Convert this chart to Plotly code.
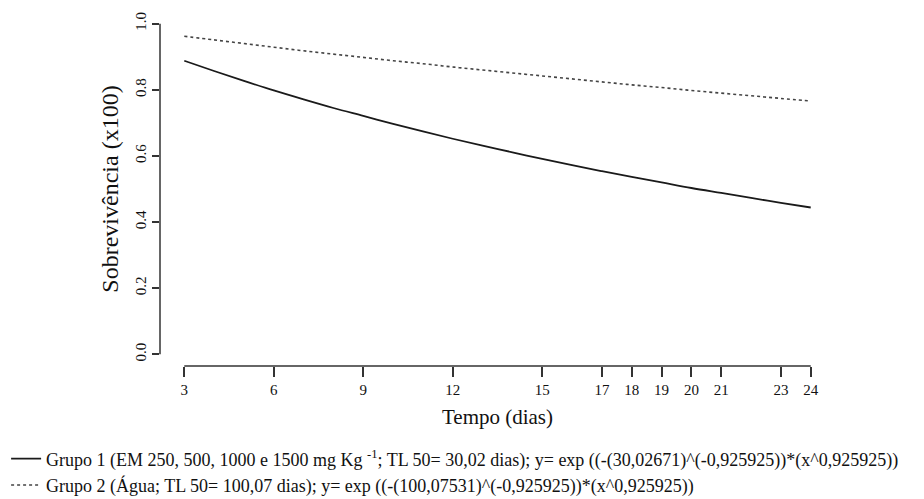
import plotly.graph_objects as go

# Days (x) and estimated survival proportions
dias = [3, 4, 5, 6, 7, 8, 9, 10, 11, 12, 13, 14, 15, 16, 17, 18, 19, 20, 21, 22, 23, 24]
grupo1 = [0.888, 0.857, 0.827, 0.798, 0.771, 0.745, 0.721, 0.697, 0.674, 0.652, 0.631,
          0.611, 0.591, 0.572, 0.554, 0.537, 0.520, 0.503, 0.488, 0.473, 0.458, 0.444]
grupo2 = [0.962, 0.951, 0.940, 0.929, 0.918, 0.908, 0.898, 0.888, 0.879, 0.869, 0.860,
          0.851, 0.842, 0.833, 0.824, 0.815, 0.807, 0.798, 0.790, 0.782, 0.774, 0.766]

x_ticks = [3, 6, 9, 12, 15, 17, 18, 19, 20, 21, 23, 24]
y_ticks = [0.0, 0.2, 0.4, 0.6, 0.8, 1.0]
y_ticktext = ["0.0", "0.2", "0.4", "0.6", "0.8", "1.0"]

nome1 = ("Grupo 1 (EM 250, 500, 1000 e 1500 mg Kg <sup>-1</sup>; TL 50= 30,02 dias); "
         "y= exp ((-(30,02671)^(-0,925925))*(x^0,925925))")
nome2 = ("Grupo 2 (Água; TL 50= 100,07 dias); "
         "y= exp ((-(100,07531)^(-0,925925))*(x^0,925925))")

FONT = "Liberation Serif, Times New Roman, serif"
AX = "#333333"

fig = go.Figure()
fig.add_trace(go.Scatter(x=dias, y=grupo1, mode="lines", name=nome1,
                         line=dict(color="#1a1a1a", width=1.8, shape="spline")))
fig.add_trace(go.Scatter(x=dias, y=grupo2, mode="lines", name=nome2,
                         line=dict(color="#444444", width=1.6, dash="dot", shape="spline")))

xr = [2.186, 24.814]
yr = [-0.0354, 1.0354]

# R-style detached axis lines
fig.add_shape(type="line", xref="paper", yref="y", x0=0, x1=0, y0=0, y1=1,
              line=dict(color=AX, width=1.5))
fig.add_shape(type="line", xref="x", yref="paper", x0=3, x1=24, y0=0, y1=0,
              line=dict(color=AX, width=1.5))

fig.update_layout(
    width=916, height=491,
    margin=dict(l=152, r=89, t=4, b=133, autoexpand=False),
    paper_bgcolor="white", plot_bgcolor="white",
    font=dict(family=FONT, color="#111111"),
    xaxis=dict(range=xr, tickvals=x_ticks, ticktext=[str(v) for v in x_ticks],
               showgrid=False, zeroline=False, showline=False, automargin=False,
               ticks="outside", ticklen=10, tickwidth=1.5, tickcolor=AX,
               tickfont=dict(family=FONT, size=15, color="#111111"),
               title=dict(text="Tempo (dias)", font=dict(family=FONT, size=21), standoff=12)),
    yaxis=dict(range=yr, tickvals=y_ticks, ticktext=y_ticktext, tickangle=-90,
               showgrid=False, zeroline=False, showline=False, automargin=False,
               ticks="outside", ticklen=7, tickwidth=1.5, tickcolor=AX,
               tickfont=dict(family=FONT, size=15, color="#111111"),
               title=dict(text="Sobrevivência (x100)", font=dict(family=FONT, size=24), standoff=7)),
    showlegend=True,
    legend=dict(x=-0.228, xanchor="left", y=-0.21, yanchor="top",
                orientation="v", bgcolor="rgba(0,0,0,0)",
                font=dict(family=FONT, size=18, color="#111111"),
                itemwidth=30),
)

fig.write_html("out.html")
